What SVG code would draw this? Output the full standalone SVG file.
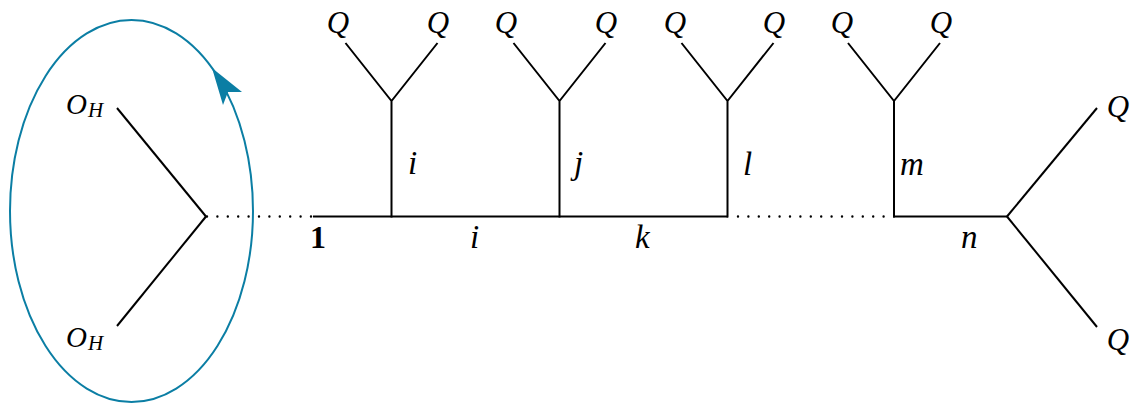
<svg xmlns="http://www.w3.org/2000/svg" width="1131" height="403" viewBox="0 0 1131 403">
<style>
.ln{stroke:#000;stroke-width:2;fill:none;stroke-linecap:butt}
.dot{stroke:#000;stroke-width:2.4;fill:none;stroke-linecap:round;stroke-dasharray:0 10.4}
.loop{stroke:#0b7ea4;stroke-width:2;fill:none}
.head{fill:#0b7ea4;stroke:none}
text{font-family:"Liberation Serif","DejaVu Serif",serif;fill:#000}
.t{font-style:italic;font-size:33px}
.q{font-style:italic;font-size:31px}
.o{font-style:italic;font-size:29px}
.s{font-size:21px}
.b{font-weight:bold;font-size:32px}
</style>
<rect width="1131" height="403" fill="#fff"/>
<g id="connectors">
<ellipse class="loop" cx="131.5" cy="211" rx="121.5" ry="191"/>
<polygon class="head" points="212,68 242,92 228,92 223,105"/>
<line class="ln" x1="117" y1="108" x2="206" y2="216.5"/>
<line class="ln" x1="206" y1="216.5" x2="117" y2="326"/>
<line class="dot" x1="207" y1="216.5" x2="313" y2="216.5"/>
<line class="ln" x1="313" y1="216.5" x2="728" y2="216.5"/>
<line class="dot" x1="738" y1="216.5" x2="893" y2="216.5"/>
<line class="ln" x1="893" y1="216.5" x2="1007" y2="216.5"/>
<line class="ln" x1="1007" y1="216.5" x2="1097" y2="108"/>
<line class="ln" x1="1007" y1="216.5" x2="1097" y2="327"/>
<path class="ln" d="M391.5,217.5V100.5M345.5,43L391.5,101L437.5,43"/>
<path class="ln" d="M559.5,217.5V100.5M513.5,43L559.5,101L605.5,43"/>
<path class="ln" d="M727.5,217.5V100.5M681.5,43L727.5,101L773.5,43"/>
<path class="ln" d="M894,217.5V100.5M848,43L894,101L940,43"/>
</g>
<g id="oh-top"><text class="o" x="66" y="114">O<tspan class="s" dx="1" dy="3">H</tspan></text></g>
<g id="oh-bottom"><text class="o" x="66" y="347">O<tspan class="s" dx="1" dy="3">H</tspan></text></g>
<g id="v1">
<text class="q" x="338" y="33" text-anchor="middle">Q</text>
<text class="q" x="438" y="33" text-anchor="middle">Q</text>
<text class="t" x="408" y="174">i</text>
</g>
<g id="v2">
<text class="q" x="506" y="33" text-anchor="middle">Q</text>
<text class="q" x="606" y="33" text-anchor="middle">Q</text>
<text class="t" x="574" y="174">j</text>
</g>
<g id="v3">
<text class="q" x="675" y="33" text-anchor="middle">Q</text>
<text class="q" x="774" y="33" text-anchor="middle">Q</text>
<text class="t" x="743" y="175">l</text>
</g>
<g id="v4">
<text class="q" x="842" y="33" text-anchor="middle">Q</text>
<text class="q" x="941" y="33" text-anchor="middle">Q</text>
<text class="t" x="900" y="175">m</text>
</g>
<g id="v5">
<text class="q" x="1118" y="117" text-anchor="middle">Q</text>
<text class="q" x="1118" y="350" text-anchor="middle">Q</text>
</g>
<g id="edge-labels">
<text class="b" x="310" y="248">1</text>
<text class="t" x="470" y="248">i</text>
<text class="t" x="635" y="248">k</text>
<text class="t" x="961" y="248">n</text>
</g>
</svg>
